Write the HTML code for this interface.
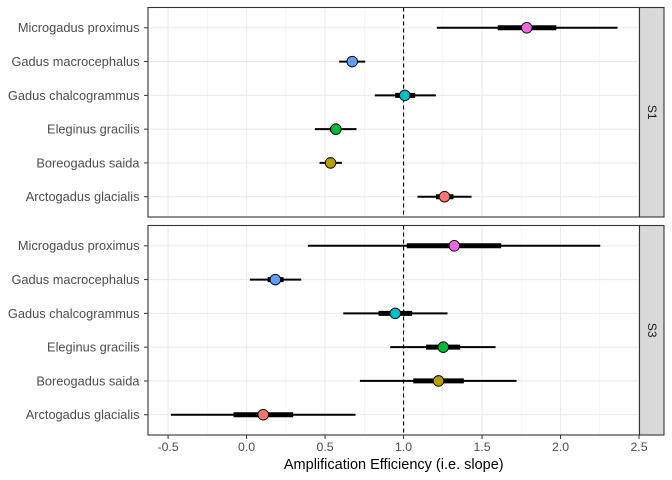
<!DOCTYPE html>
<html><head><meta charset="utf-8"><style>
html,body{margin:0;padding:0;background:#fff}
svg{display:block;font-family:"Liberation Sans",Arial,sans-serif}
</style></head><body>
<svg id="chart" width="672" height="480"></svg>
<script>
const species = ["Microgadus proximus","Gadus macrocephalus","Gadus chalcogrammus","Eleginus gracilis","Boreogadus saida","Arctogadus glacialis"];
const colors = ["#F564E3","#619CFF","#00BFC4","#00BA38","#B79F00","#F8766D"];
const facets = ["S1","S3"];
const s1Est = [1.785,0.673,1.008,0.569,0.535,1.261];
const s1Lo95 = [1.212,0.590,0.817,0.435,0.465,1.089];
const s1Hi95 = [2.363,0.756,1.206,0.700,0.607,1.433];
const s1Lo50 = [1.600,0.640,0.947,0.530,0.520,1.206];
const s1Hi50 = [1.973,0.705,1.074,0.600,0.550,1.318];
const s3Est = [1.323,0.183,0.947,1.253,1.223,0.106];
const s3Lo95 = [0.390,0.021,0.616,0.915,0.722,-0.482];
const s3Hi95 = [2.253,0.348,1.280,1.586,1.720,0.694];
const s3Lo50 = [1.021,0.134,0.841,1.144,1.062,-0.083];
const s3Hi50 = [1.622,0.236,1.055,1.361,1.384,0.297];
const xTicks = [-0.5,0,0.5,1,1.5,2,2.5];
const xTickLabels = ["-0.5","0.0","0.5","1.0","1.5","2.0","2.5"];
const refLine = 1;

const NS="http://www.w3.org/2000/svg";
const svg=document.getElementById('chart');
function mk(tag,attrs,parent){const e=document.createElementNS(NS,tag);for(const k in attrs)e.setAttribute(k,attrs[k]);(parent||svg).appendChild(e);return e;}
const xMin=-0.628,xMax=2.503,pL=148,pR=639.5;
function xs(v){return pL+(v-xMin)/(xMax-xMin)*(pR-pL);}
const panels=[{top:7.5,bot:217,est:s1Est,lo95:s1Lo95,hi95:s1Hi95,lo50:s1Lo50,hi50:s1Hi50},
              {top:225.5,bot:435,est:s3Est,lo95:s3Lo95,hi95:s3Hi95,lo50:s3Lo50,hi50:s3Hi50}];
panels.forEach((p,pi)=>{
  const g=mk('g',{});
  
  
  const n=species.length, h=p.bot-p.top, step=h/(n-1+1.2);
  const ys=i=>p.top+step*0.6+i*step;
  for(let i=0;i<xTicks.length-1;i++){
    const x=xs((xTicks[i]+xTicks[i+1])/2);
    mk('line',{x1:x,x2:x,y1:p.top,y2:p.bot,stroke:'#f2f2f2','stroke-width':0.6},g);
  }
  xTicks.forEach(t=>{const x=xs(t);mk('line',{x1:x,x2:x,y1:p.top,y2:p.bot,stroke:'#ebebeb','stroke-width':1.1},g);});
  species.forEach((s,i)=>{mk('line',{x1:pL,x2:pR,y1:ys(i),y2:ys(i),stroke:'#ebebeb','stroke-width':1.1},g);});
  const rl=mk('line',{x1:xs(refLine),x2:xs(refLine),y1:p.top,y2:p.bot,stroke:'#000','stroke-width':1.1,'stroke-dasharray':'4,3'},g);
  
  
  species.forEach((s,i)=>{
    const y=ys(i);
    const l1=mk('line',{x1:xs(p.lo95[i]),x2:xs(p.hi95[i]),y1:y,y2:y,stroke:'#000','stroke-width':2},g);
    
    
    const l2=mk('line',{x1:xs(p.lo50[i]),x2:xs(p.hi50[i]),y1:y,y2:y,stroke:'#000','stroke-width':5},g);
    
    
    const c=mk('circle',{cx:xs(p.est[i]),cy:y,r:5.3,fill:colors[i],stroke:'#000','stroke-width':0.9},g);
    
    
    const t=mk('text',{x:139.5,y:y+4.4,'text-anchor':'end','font-size':12.8,fill:'#4d4d4d'},g);
    t.textContent=s;
    
    
    mk('line',{x1:144,x2:pL,y1:y,y2:y,stroke:'#333','stroke-width':1},g);
  });
  mk('rect',{x:pL,y:p.top,width:pR-pL,height:h,fill:'none',stroke:'#333','stroke-width':1.1},g);
  const st=mk('rect',{x:pR,y:p.top,width:24.5,height:h,fill:'#d9d9d9',stroke:'#333','stroke-width':1.1},g);
  
  
  const cx=pR+12.5, cy=(p.top+p.bot)/2;
  const stt=mk('text',{x:cx,y:cy,'text-anchor':'middle','font-size':12,fill:'#1a1a1a',transform:`rotate(90 ${cx} ${cy})`,dy:4},g);
  stt.textContent=facets[pi];
  
  
});
xTicks.forEach((t,i)=>{
  const x=xs(t);
  mk('line',{x1:x,x2:x,y1:435,y2:439,stroke:'#333','stroke-width':1});
  const tx=mk('text',{x:x,y:451,'text-anchor':'middle','font-size':12.3,fill:'#4d4d4d'});
  tx.textContent=xTickLabels[i];
  
  
});
const xt=mk('text',{x:(pL+pR)/2,y:469,'text-anchor':'middle','font-size':14.5,fill:'#000'});
xt.textContent='Amplification Efficiency (i.e. slope)';


</script>
</body></html>
